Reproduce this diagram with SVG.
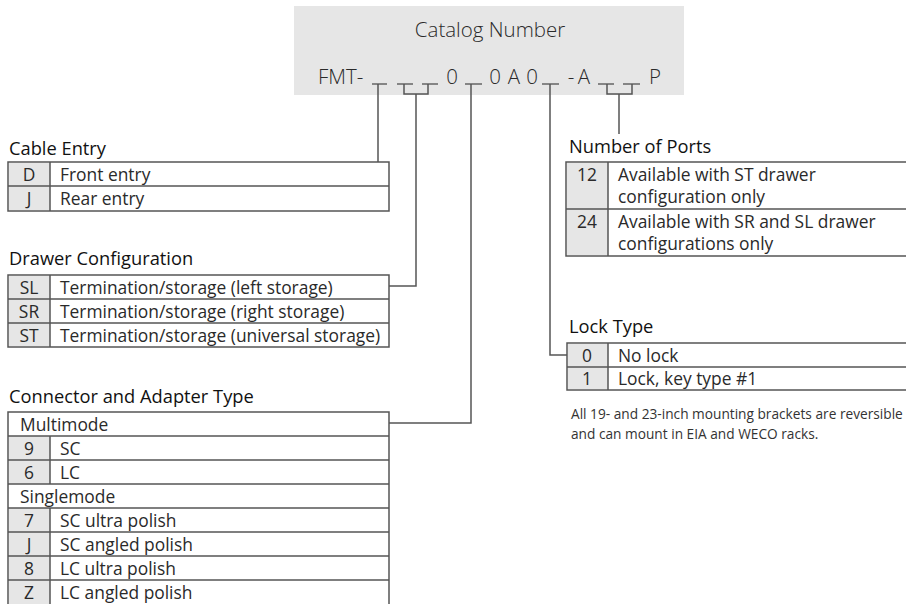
<svg xmlns="http://www.w3.org/2000/svg" width="906" height="604" viewBox="0 0 906 604">
<style>
.bg{fill:#ffffff}
.hdr{fill:#e6e6e6}
.cat{font-family:"Open Sans","Liberation Sans",sans-serif;font-size:20.5px;font-weight:300;fill:#2a2a2a}
.h{font-family:"Open Sans","Liberation Sans",sans-serif;font-size:18.3px;font-weight:500;fill:#111}
.t{font-family:"Open Sans","Liberation Sans",sans-serif;font-size:17.4px;fill:#2a2a2a}
.c{font-family:"Open Sans","Liberation Sans",sans-serif;font-size:17.4px;fill:#2a2a2a;text-anchor:middle}
.n{font-family:"Open Sans","Liberation Sans",sans-serif;font-size:13.7px;fill:#333}
.box{fill:#fff;stroke:#555;stroke-width:1.5}
.code{fill:#e6e6e6}
.ln{fill:none;stroke:#555;stroke-width:1.5}
.u{fill:none;stroke:#666;stroke-width:1.3}
</style>
<rect class="bg" x="0" y="0" width="906" height="604"/>

<g id="catalog">
<rect class="hdr" x="294" y="6" width="390" height="89"/>
<text class="cat" x="490" y="37" text-anchor="middle">Catalog Number</text>
<text class="cat" x="318" y="84">FMT-</text>
<text class="cat" x="452" y="84" text-anchor="middle">0</text>
<text class="cat" x="495" y="84" text-anchor="middle">0</text>
<text class="cat" x="514" y="84" text-anchor="middle">A</text>
<text class="cat" x="532" y="84" text-anchor="middle">0</text>
<text class="cat" x="571" y="84" text-anchor="middle">-</text>
<text class="cat" x="584" y="84" text-anchor="middle">A</text>
<text class="cat" x="655" y="84" text-anchor="middle">P</text>
<path class="u" d="M372 84H387M397 84H413M422 84H438M465 84H482M542 84H559M598 84H614M623 84H640"/>
</g>

<g id="connectors">
<path class="ln" d="M378 84V162"/>
<path class="ln" d="M404 84V94H428V84M416 94V286H389"/>
<path class="ln" d="M471 84V423H389"/>
<path class="ln" d="M550 84V355H567"/>
<path class="ln" d="M607 84V94H632V84M619 94V134"/>
</g>

<g id="cable-entry">
<text class="h" x="9" y="155">Cable Entry</text>
<rect class="box" x="8" y="162" width="381" height="49"/>
<rect class="code" x="9" y="163" width="41" height="47"/>
<path class="ln" d="M50 162V211M8 186H389"/>
<text class="c" x="29" y="181">D</text>
<text class="t" x="60" y="181">Front entry</text>
<text class="c" x="29" y="205">J</text>
<text class="t" x="60" y="205">Rear entry</text>
</g>

<g id="drawer-configuration">
<text class="h" x="9" y="265">Drawer Configuration</text>
<rect class="box" x="8" y="275" width="381" height="72"/>
<rect class="code" x="9" y="276" width="41" height="70"/>
<path class="ln" d="M50 275V347M8 299H389M8 323H389"/>
<text class="c" x="29" y="294">SL</text>
<text class="t" x="60" y="294">Termination/storage (left storage)</text>
<text class="c" x="29" y="318">SR</text>
<text class="t" x="60" y="318">Termination/storage (right storage)</text>
<text class="c" x="29" y="342">ST</text>
<text class="t" x="60" y="342">Termination/storage (universal storage)</text>
</g>

<g id="connector-adapter-type">
<text class="h" x="9" y="403">Connector and Adapter Type</text>
<rect class="box" x="8" y="412" width="381" height="200"/>
<rect class="code" x="9" y="436" width="41" height="48"/>
<rect class="code" x="9" y="508" width="41" height="100"/>
<path class="ln" d="M50 436V484M50 508V610M8 436H389M8 460H389M8 484H389M8 508H389M8 532H389M8 556H389M8 580H389"/>
<text class="t" x="20" y="431">Multimode</text>
<text class="c" x="29" y="455">9</text>
<text class="t" x="60" y="455">SC</text>
<text class="c" x="29" y="479">6</text>
<text class="t" x="60" y="479">LC</text>
<text class="t" x="20" y="503">Singlemode</text>
<text class="c" x="29" y="527">7</text>
<text class="t" x="60" y="527">SC ultra polish</text>
<text class="c" x="29" y="551">J</text>
<text class="t" x="60" y="551">SC angled polish</text>
<text class="c" x="29" y="575">8</text>
<text class="t" x="60" y="575">LC ultra polish</text>
<text class="c" x="29" y="599">Z</text>
<text class="t" x="60" y="599">LC angled polish</text>
</g>

<g id="number-of-ports">
<text class="h" x="569" y="153">Number of Ports</text>
<rect class="box" x="566" y="162" width="360" height="94"/>
<rect class="code" x="567" y="163" width="41" height="92"/>
<path class="ln" d="M608 162V256M566 209H926"/>
<text class="c" x="587" y="181">12</text>
<text class="t" x="618" y="181">Available with ST drawer</text>
<text class="t" x="618" y="203">configuration only</text>
<text class="c" x="587" y="228">24</text>
<text class="t" x="618" y="228">Available with SR and SL drawer</text>
<text class="t" x="618" y="250">configurations only</text>
</g>

<g id="lock-type">
<text class="h" x="569" y="333">Lock Type</text>
<rect class="box" x="567" y="343" width="360" height="47"/>
<rect class="code" x="568" y="344" width="40" height="45"/>
<path class="ln" d="M608 343V390M567 367H927"/>
<text class="c" x="587" y="362">0</text>
<text class="t" x="618" y="362">No lock</text>
<text class="c" x="587" y="385">1</text>
<text class="t" x="618" y="385">Lock, key type #1</text>
</g>

<g id="note">
<text class="n" x="571" y="419">All 19- and 23-inch mounting brackets are reversible</text>
<text class="n" x="571" y="439">and can mount in EIA and WECO racks.</text>
</g>
</svg>
